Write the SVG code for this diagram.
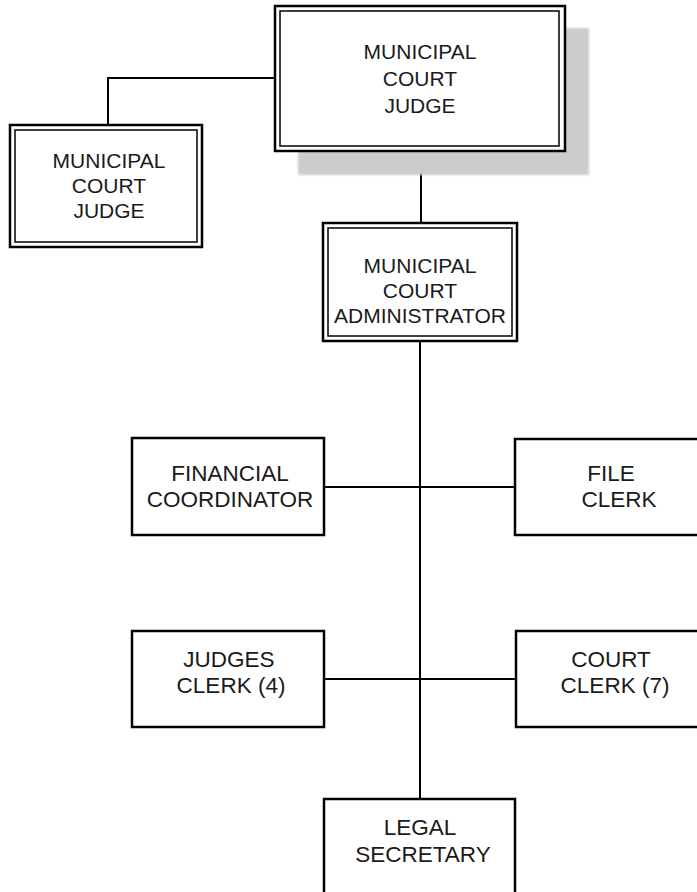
<svg xmlns="http://www.w3.org/2000/svg" width="697" height="892" viewBox="0 0 697 892">
  <style>
    .outer { fill: #fff; stroke: #000; stroke-width: 2.5; }
    .inner { fill: none; stroke: #000; stroke-width: 1.5; }
    .box { fill: #fff; stroke: #000; stroke-width: 2.5; }
    .line { fill: none; stroke: #000; stroke-width: 2; }
    text { font-family: "Liberation Sans", Arial, sans-serif; font-size: 21px; fill: #1a1a1a; text-anchor: middle; }
    .staff text { font-size: 22.5px; }
  </style>
  <defs>
    <filter id="soft" x="-5%" y="-5%" width="110%" height="110%">
      <feGaussianBlur stdDeviation="1"/>
    </filter>
  </defs>
  <rect width="697" height="892" fill="#fff"/>

  <!-- connectors -->
  <g id="connectors">
    <polyline class="line" points="108,125 108,78 275,78"/>
    <line class="line" x1="421" y1="151" x2="421" y2="223"/>
    <line class="line" x1="420" y1="341" x2="420" y2="799"/>
    <line class="line" x1="324" y1="487" x2="515" y2="487"/>
    <line class="line" x1="324" y1="679" x2="516" y2="679"/>
  </g>

  <!-- head of court, with drop shadow -->
  <g id="judge-main">
    <rect x="298" y="28" width="291" height="147" fill="#cccccc" filter="url(#soft)"/>
    <rect class="outer" x="275" y="6" width="290" height="145"/>
    <rect class="inner" x="280" y="11" width="279" height="135"/>
    <text x="420" y="59">MUNICIPAL</text>
    <text x="420" y="86">COURT</text>
    <text x="420" y="113">JUDGE</text>
  </g>

  <g id="judge-second">
    <rect class="outer" x="10" y="125" width="192" height="122"/>
    <rect class="inner" x="15" y="130" width="182" height="112"/>
    <text x="109" y="168">MUNICIPAL</text>
    <text x="109" y="193">COURT</text>
    <text x="109" y="218">JUDGE</text>
  </g>

  <g id="administrator">
    <rect class="outer" x="323" y="223" width="194" height="118"/>
    <rect class="inner" x="328" y="228" width="184" height="108"/>
    <text x="420" y="273">MUNICIPAL</text>
    <text x="420" y="298">COURT</text>
    <text x="420" y="323">ADMINISTRATOR</text>
  </g>

  <g id="financial-coordinator" class="staff">
    <rect class="box" x="132" y="438" width="192" height="97"/>
    <text x="230" y="481">FINANCIAL</text>
    <text x="230" y="507">COORDINATOR</text>
  </g>

  <g id="file-clerk" class="staff">
    <rect class="box" x="515" y="439" width="200" height="96"/>
    <text x="611" y="481">FILE</text>
    <text x="619" y="507">CLERK</text>
  </g>

  <g id="judges-clerk" class="staff">
    <rect class="box" x="132" y="631" width="192" height="96"/>
    <text x="229" y="667">JUDGES</text>
    <text x="231" y="693">CLERK (4)</text>
  </g>

  <g id="court-clerk" class="staff">
    <rect class="box" x="516" y="631" width="200" height="96"/>
    <text x="611" y="667">COURT</text>
    <text x="615" y="693">CLERK (7)</text>
  </g>

  <g id="legal-secretary" class="staff">
    <rect class="box" x="324" y="799" width="191" height="110"/>
    <text x="420" y="835">LEGAL</text>
    <text x="423" y="862">SECRETARY</text>
  </g>
</svg>
